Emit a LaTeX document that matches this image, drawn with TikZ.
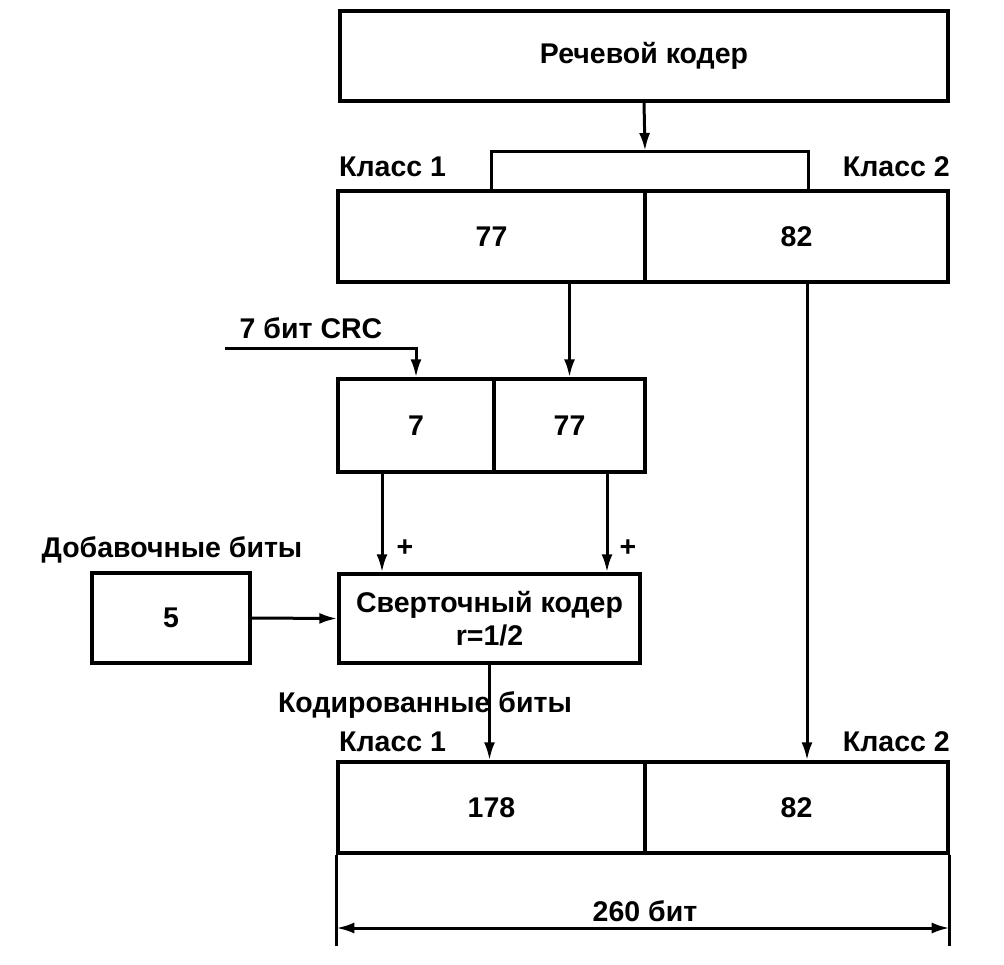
\documentclass[tikz,border=0pt]{standalone}
\usepackage{fontspec}
\setmainfont{Liberation Sans}
\usetikzlibrary{arrows.meta}
\begin{document}
\begin{tikzpicture}[x=1pt,y=-1pt,
  every node/.style={font=\fontsize{28.5}{32}\selectfont\bfseries, inner sep=0pt},
  box/.style={draw, line width=3.4pt, rectangle, align=center},
  lbl/.style={},
  ln/.style={line width=3pt},
  arr/.style={line width=3pt, -{Latex[length=18pt,width=11pt]}},
  darr/.style={line width=3pt, {Latex[length=18pt,width=11pt]}-{Latex[length=18pt,width=11pt]}}]
\useasboundingbox (0,0) rectangle (1004,964);
% top coder
\node[box, minimum width=608, minimum height=90] (coder) at (644,56) {Речевой кодер};
% bracket
\coordinate (brk) at (645,151);
\draw[ln] (491,191) |- (808,151) -- (808,191);
% row 1
\node[box, minimum width=307, minimum height=91] (c1a) at (491.5,236.5) {77};
\node[box, minimum width=303, minimum height=91] (c1b) at (796.5,236.5) {82};
\node[lbl, anchor=west] (k1a) at (339,167) {Класс 1};
\node[lbl, anchor=east] (k2a) at (950,167) {Класс 2};
\draw[arr] (coder.south) -- (brk);
% CRC row
\node[box, minimum width=156, minimum height=93] (b7) at (416,425.5) {7};
\node[box, minimum width=151, minimum height=93] (b77) at (569.5,425.5) {77};
\node[lbl] (crc) at (311,328) {7 бит CRC};
\coordinate (crcin) at (225,348);
\draw[arr] (crcin) -| (b7.north);
\draw[arr] (b77.north |- c1a.south) -- (b77.north);
% conv coder
\node[box, minimum width=301, minimum height=89] (conv) at (489.5,618.5) {Сверточный кодер\\[1pt]r=1/2};
\node[box, minimum width=158, minimum height=90] (five) at (171,618) {5};
\node[lbl] (dob) at (172,550) {Добавочные биты};
\draw[arr] ([xshift=-34pt]b7.south) -- ([xshift=-34pt]b7.south |- conv.north);
\draw[arr] ([xshift=37.5pt]b77.south) -- ([xshift=37.5pt]b77.south |- conv.north);
\node[lbl] (p1) at (405,548) {+};
\node[lbl] (p2) at (628,548) {+};
\draw[arr] (five.east) -- (conv.west);
% bottom row
\node[box, minimum width=307, minimum height=91] (d1) at (491.5,807.5) {178};
\node[box, minimum width=303, minimum height=91] (d2) at (796.5,807.5) {82};
\node[lbl, anchor=west] (k1b) at (339,742) {Класс 1};
\node[lbl, anchor=east] (k2b) at (950,742) {Класс 2};
\node[lbl] (kod) at (425,705) {Кодированные биты};
\draw[arr] (conv.south) -- (conv.south |- d1.north);
\draw[arr] ([xshift=10.5pt]c1b.south) -- ([xshift=10.5pt]d2.north);
% dimension
\coordinate (e1) at (d1.south west |- 0,946);
\coordinate (e2) at (d2.south east |- 0,946);
\draw[ln] (d1.south west) -- (e1);
\draw[ln] (d2.south east) -- (e2);
\coordinate (a1) at (d1.south west |- 0,928);
\coordinate (a2) at (d2.south east |- 0,928);
\draw[darr] (a1) -- (a2);
\node[lbl] (dim) at (645,911) {260 бит};
\end{tikzpicture}
\end{document}
